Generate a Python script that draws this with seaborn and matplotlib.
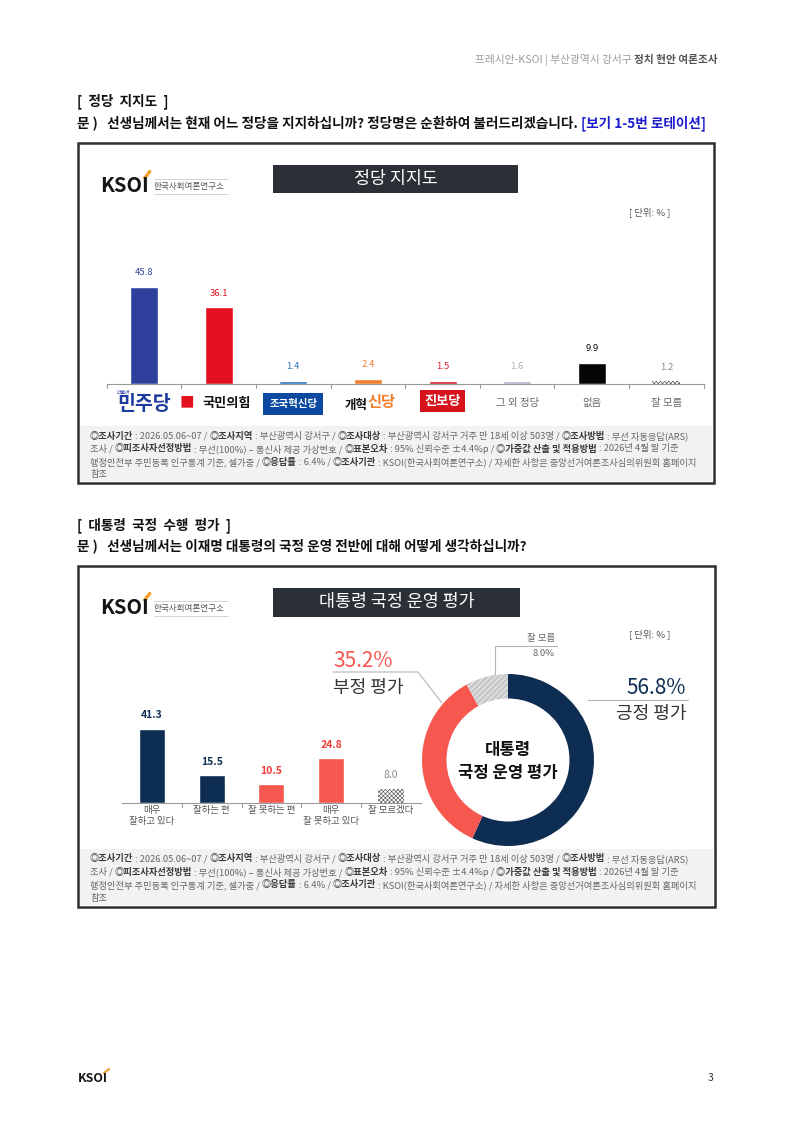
import numpy as np
import pandas as pd
import matplotlib
matplotlib.use('Agg')
import matplotlib.pyplot as plt
import matplotlib.transforms as mtrans
import seaborn as sns
from matplotlib.patches import Rectangle

# ---------------- data ----------------
party_names = ['더불어민주당', '국민의힘', '조국혁신당', '개혁신당', '진보당', '그 외 정당', '없음', '잘 모름']
party_support = [45.8, 36.1, 1.4, 2.4, 1.5, 1.6, 9.9, 1.2]

eval_labels = ['매우\n잘하고 있다', '잘하는 편', '잘 못하는 편', '매우\n잘 못하고 있다', '잘 모르겠다']
eval_values = [41.3, 15.5, 10.5, 24.8, 8.0]

summary_labels = ['긍정 평가', '부정 평가', '잘 모름']
summary_values = [56.8, 35.2, 8.0]

footnote_lines = [
    "**◎조사기간** : 2026.05.06~07 / **◎조사지역** : 부산광역시 강서구 / **◎조사대상** : 부산광역시 강서구 거주 만 18세 이상 503명 / **◎조사방법** : 무선 자동응답(ARS)",
    "조사 / **◎피조사자선정방법** : 무선(100%) – 통신사 제공 가상번호 / **◎표본오차** : 95% 신뢰수준 ±4.4%p / **◎가중값 산출 및 적용방법** : 2026년 4월 말 기준",
    "행정안전부 주민등록 인구통계 기준, 셀가중 / **◎응답률** : 6.4% / **◎조사기관** : KSOI(한국사회여론연구소) / 자세한 사항은 중앙선거여론조사심의위원회 홈페이지",
    "참조",
]

# ---------------- style ----------------
party_colors = ['#2f3f9c', '#e3101f', '#2a78c2', '#f07f2e', '#d81e28', '#bcaed0', '#050505', '#ffffff']
party_value_colors = ['#2f3f9c', '#e3101f', '#2a78c2', '#f07f2e', '#d81e28', '#b0b0b0', '#111111', '#8a8a8a']
NAVY = '#0e2d52'
CORAL = '#f6574f'
eval_colors = [NAVY, NAVY, CORAL, CORAL, '#ffffff']
eval_value_colors = [NAVY, NAVY, '#ee3b35', '#ee3b35', '#8a8a8a']
donut_colors = [NAVY, CORAL, '#c8c8c8']

sns.set_theme(style='white')
plt.rcParams['font.family'] = ['Noto Sans CJK KR', 'DejaVu Sans']
plt.rcParams['hatch.linewidth'] = 0.45
plt.rcParams['axes.unicode_minus'] = False

W, H = 793, 1121
fig = plt.figure(figsize=(W / 100, H / 100), dpi=100)
fig.patch.set_facecolor('white')
bg = fig.add_axes([0, 0, 1, 1])
bg.set_xlim(0, W)
bg.set_ylim(H, 0)
bg.axis('off')
R = fig.canvas.get_renderer()


def text_width(s, size, weight):
    t1 = bg.text(0, 0, s + '|', fontsize=size, fontweight=weight)
    t2 = bg.text(0, 0, '|', fontsize=size, fontweight=weight)
    w = t1.get_window_extent(renderer=R).width - t2.get_window_extent(renderer=R).width
    t1.remove()
    t2.remove()
    return w


def runs(x, y, parts, size):
    cx = x
    made = []
    for s, w, c in parts:
        made.append(bg.text(cx, y, s, fontsize=size, fontweight=w, color=c, va='center', ha='left'))
        cx += text_width(s, size, w)
    return cx, made


def rich_line(x, y, line, size, c_norm='#666666', c_bold='#3a3a3a'):
    segs = line.split('**')
    parts = []
    for i, s in enumerate(segs):
        if not s:
            continue
        parts.append((s, 'bold' if i % 2 else 'normal', c_bold if i % 2 else c_norm))
    runs(x, y, parts, size)


def axes_px(x0, y0, x1, y1):
    return fig.add_axes([x0 / W, 1 - y1 / H, (x1 - x0) / W, (y1 - y0) / H])


def logo(x, y, size=14.5, sub=True):
    bg.text(x, y, 'KSOI', fontsize=size, fontweight='heavy', color='#151515', va='center', ha='left')
    wk = text_width('KSOI', size, 'heavy')
    bg.plot([x + wk - 4, x + wk + 1], [y - size * 0.55, y - size * 1.0], color='#f2a126', lw=size / 6, solid_capstyle='round')
    if sub:
        sx = x + wk + 5
        bg.text(sx, y + 1, '한국사회여론연구소', fontsize=6.2, color='#555555', va='center', ha='left')
        bg.plot([sx, sx + 74], [y - 7, y - 7], color='#cccccc', lw=0.6)
        bg.plot([sx, sx + 74], [y + 8, y + 8], color='#cccccc', lw=0.6)


def frame(x0, y0, x1, y1, foot_y):
    bg.add_patch(Rectangle((x0, y0), x1 - x0, y1 - y0, fill=False, edgecolor='#2e2e2e', lw=1.8, zorder=5))
    bg.add_patch(Rectangle((x0 + 2, foot_y), x1 - x0 - 4, y1 - foot_y - 2, facecolor='#f1f2f4', edgecolor='none', zorder=1))


def title_box(x0, y0, x1, y1, s):
    bg.add_patch(Rectangle((x0, y0), x1 - x0, y1 - y0, facecolor='#2b3036', edgecolor='none', zorder=2))
    bg.text((x0 + x1) / 2, (y0 + y1) / 2, s, fontsize=12.5, color='white', ha='center', va='center', zorder=3)


def footnote(y0):
    for i, ln in enumerate(footnote_lines):
        rich_line(90, y0 + i * 13, ln, 6.7)


def style_bar_axes(ax, n):
    ax.set_xlim(-0.5, n - 0.5)
    ax.set_ylim(0, 50)
    ax.patch.set_alpha(0)
    for sp in ['top', 'right', 'left']:
        ax.spines[sp].set_visible(False)
    ax.spines['bottom'].set_color('#9a9a9a')
    ax.spines['bottom'].set_linewidth(0.8)
    ax.set_xticks([])
    ax.set_yticks([])
    ax.set_xlabel('')
    ax.set_ylabel('')


def hatch_bar(ax, labels, which):
    for p in ax.patches:
        i = int(round(p.get_x() + p.get_width() / 2))
        if labels[i] == which:
            p.set_facecolor('white')
            p.set_edgecolor('#555555')
            p.set_hatch('xxxxxxxx')
            p.set_linewidth(0)


# ---------------- page header ----------------
xh, hts = runs(0, 60, [('프레시안-KSOI | 부산광역시 강서구 ', 'normal', '#9a9a9a'), ('정치 현안 여론조사', 'bold', '#555555')], 7.7)
for t in hts:
    t.set_x(t.get_position()[0] + (718 - xh))

# ---------------- section 1 ----------------
bg.text(77, 101, '[  정당  지지도  ]', fontsize=9.8, fontweight='bold', color='#111111', va='center')
runs(77, 123, [('문 )   선생님께서는 현재 어느 정당을 지지하십니까? 정당명은 순환하여 불러드리겠습니다. ', 'bold', '#111111'),
               ('[보기 1-5번 로테이션]', 'bold', '#1c1ccf')], 9.8)

frame(78, 143, 714, 483, 426)
logo(100, 186)
title_box(273, 165, 518, 193, '정당 지지도')
bg.text(670, 212, '[ 단위: % ]', fontsize=6.8, color='#555555', ha='right', va='center')

df1 = pd.DataFrame({'party': party_names, 'support': party_support})
ax1 = axes_px(106.7, 278, 703.7, 384)
sns.barplot(data=df1, x='party', y='support', hue='party', palette=party_colors, saturation=1,
            legend=False, width=0.375, ax=ax1, order=party_names, hue_order=party_names)
style_bar_axes(ax1, len(party_names))
hatch_bar(ax1, party_names, '잘 모름')
tr1 = mtrans.blended_transform_factory(ax1.transData, ax1.transAxes)
for b in np.arange(-0.5, len(party_names), 1.0):
    ax1.plot([b, b], [0, -0.035], color='#9a9a9a', lw=0.8, transform=tr1, clip_on=False)
for i, v in enumerate(party_support):
    ax1.annotate(f'{v:.1f}', (i, v), xytext=(0, 7), textcoords='offset points', ha='center', va='bottom',
                 fontsize=6.8, color=party_value_colors[i])

# party labels (styled like logos)
ly = 403
tl = mtrans.blended_transform_factory(ax1.transData, bg.transData)
ax1.text(0, ly + 1, '민주당', transform=tl, fontsize=14, fontweight='heavy', color='#1d3a9e', ha='center', va='center', clip_on=False)
ax1.text(-0.28, ly - 11, '더불어', transform=tl, fontsize=3.5, color='#1d3a9e', ha='center', va='center', clip_on=False)
ax1.text(0.57, ly, '■', transform=tl, fontsize=10.5, color='#e3101f', ha='center', va='center', clip_on=False)
ax1.text(0.78, ly, '국민의힘', transform=tl, fontsize=9.5, fontweight='bold', color='#111111', ha='left', va='center', clip_on=False)
ax1.text(2, ly + 1, '조국혁신당', transform=tl, fontsize=7.5, fontweight='bold', color='white', ha='center', va='center', clip_on=False,
         bbox=dict(boxstyle='square,pad=0.55', facecolor='#0b4aa0', edgecolor='none'))
ax1.text(3.0, ly + 2, '개혁', transform=tl, fontsize=9, fontweight='heavy', color='#111111', ha='right', va='center', clip_on=False)
ax1.text(3.0, ly - 1, '신당', transform=tl, fontsize=11, fontweight='heavy', color='#f07f2e', ha='left', va='center', clip_on=False)
ax1.text(4, ly - 2, '진보당', transform=tl, fontsize=9.5, fontweight='heavy', color='white', ha='center', va='center', clip_on=False,
         bbox=dict(boxstyle='square,pad=0.3', facecolor='#d6141d', edgecolor='none'))
for i in range(5, len(party_names)):
    ax1.text(i, ly, party_names[i], transform=tl, fontsize=7.5, color='#666666', ha='center', va='center', clip_on=False)

footnote(436)

# ---------------- section 2 ----------------
bg.text(77, 525, '[  대통령  국정  수행  평가  ]', fontsize=9.8, fontweight='bold', color='#111111', va='center')
runs(77, 546, [('문 )   선생님께서는 이재명 대통령의 국정 운영 전반에 대해 어떻게 생각하십니까?', 'bold', '#111111')], 9.8)

frame(78, 566, 715, 907, 849)
logo(100, 608)
title_box(273, 588, 520, 617, '대통령 국정 운영 평가')
bg.text(670, 634, '[ 단위: % ]', fontsize=6.8, color='#555555', ha='right', va='center')

df2 = pd.DataFrame({'item': eval_labels, 'value': eval_values})
ax2 = axes_px(122.2, 713, 420.7, 803)
sns.barplot(data=df2, x='item', y='value', hue='item', palette=eval_colors, saturation=1,
            legend=False, width=0.435, ax=ax2, order=eval_labels, hue_order=eval_labels)
style_bar_axes(ax2, len(eval_labels))
hatch_bar(ax2, eval_labels, '잘 모르겠다')
tr2 = mtrans.blended_transform_factory(ax2.transData, ax2.transAxes)
for b in np.arange(0.5, len(eval_labels) - 0.5, 1.0):
    ax2.plot([b, b], [0, -0.04], color='#9a9a9a', lw=0.8, transform=tr2, clip_on=False)
for i, v in enumerate(eval_values):
    ax2.annotate(f'{v:.1f}', (i, v), xytext=(0, 6), textcoords='offset points', ha='center', va='bottom',
                 fontsize=7.5, fontweight='normal' if i == 4 else 'bold', color=eval_value_colors[i])
tl2 = mtrans.blended_transform_factory(ax2.transData, bg.transData)
for i, s in enumerate(eval_labels):
    ax2.text(i, 806, s, transform=tl2, fontsize=6.8, color='#555555', ha='center', va='top', linespacing=1.35, clip_on=False)

# donut
cx, cy, rr = 508, 760, 90
axd = axes_px(cx - rr, cy - rr, cx + rr, cy + rr)
wedges, _ = axd.pie(summary_values, colors=donut_colors, startangle=90, counterclock=False,
                    radius=86 / rr, wedgeprops=dict(width=(86 - 61.5) / rr, linewidth=0, edgecolor='white'))
axd.set_xlim(-1, 1)
axd.set_ylim(-1, 1)
axd.axis('off')
wedges[2].set_hatch('//////')
wedges[2].set_edgecolor('white')
wedges[2].set_linewidth(0)

bg.text(cx, 750, '대통령', fontsize=12, fontweight='bold', color='#111111', ha='center', va='center')
bg.text(cx, 773, '국정 운영 평가', fontsize=12, fontweight='bold', color='#111111', ha='center', va='center')

bg.plot([588, 688], [700, 700], color='#b5b5b5', lw=0.8)
bg.text(686, 688, f'{summary_values[0]:.1f}%', fontsize=15, color=NAVY, ha='right', va='center')
bg.text(686, 714, summary_labels[0], fontsize=13, color='#333333', ha='right', va='center')

bg.plot([333, 418, 442], [672, 672, 703], color='#b5b5b5', lw=0.8)
bg.text(333, 661, f'{summary_values[1]:.1f}%', fontsize=15, color=CORAL, ha='left', va='center')
bg.text(333, 688, summary_labels[1], fontsize=13, color='#333333', ha='left', va='center')

bg.plot([495, 495, 557], [676, 646, 646], color='#b5b5b5', lw=0.8)
bg.text(555, 638, summary_labels[2], fontsize=6.8, color='#666666', ha='right', va='center')
bg.text(555, 653, f'{summary_values[2]:.1f}%', fontsize=6.8, color='#666666', ha='right', va='center')

footnote(859)

# ---------------- page footer ----------------
logo(78, 1078, size=9, sub=False)
bg.text(713, 1078, '3', fontsize=7.5, color='#333333', ha='right', va='center')

fig.savefig('out.png', dpi=100)
